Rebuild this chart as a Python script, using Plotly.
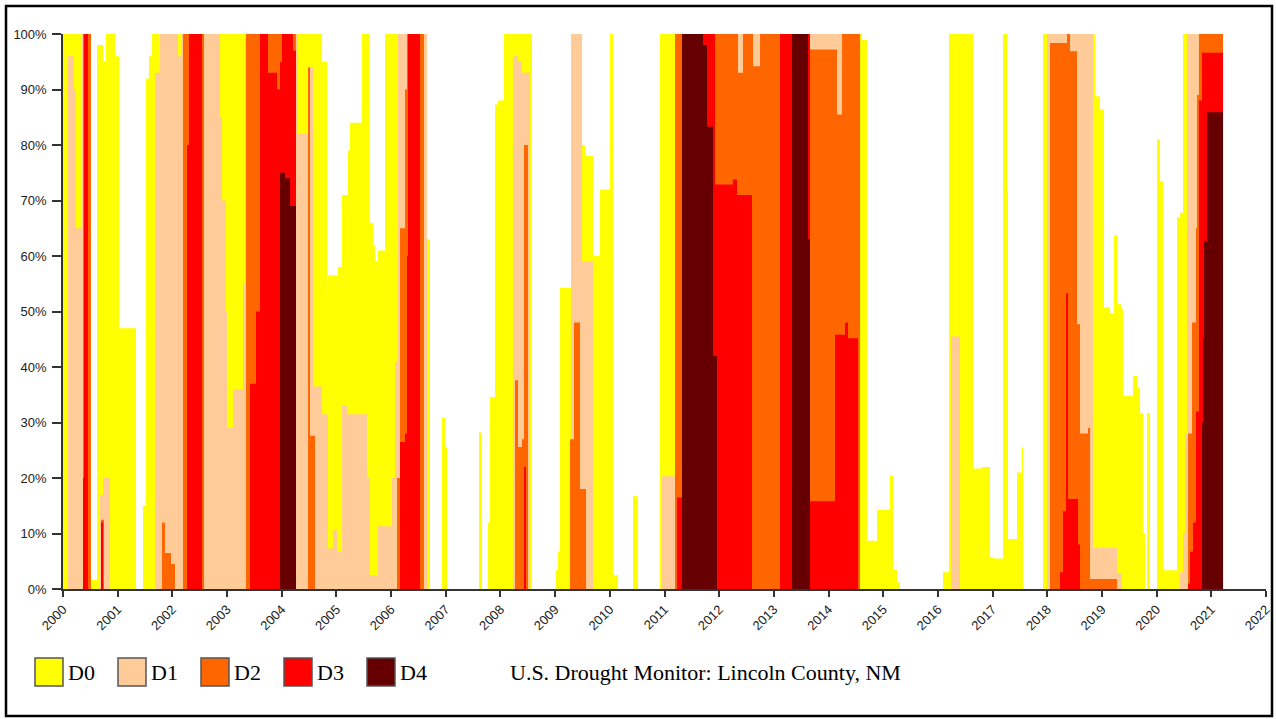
import plotly.graph_objects as go

# ---- Data: cumulative percent area (step points: value holds from this date on) ----
d0_x = [2000.000, 2000.494, 2000.622, 2000.732, 2000.786, 2000.951, 2001.024, 2001.335, 2001.463, 2001.518,
        2001.573, 2001.628, 2004.737, 2004.828, 2004.846, 2005.029, 2005.102, 2005.212, 2005.249, 2005.468,
        2005.614, 2005.669, 2005.705, 2005.761, 2005.889, 2006.657, 2006.712, 2006.931, 2006.985, 2007.023,
        2007.608, 2007.663, 2007.773, 2007.809, 2007.901, 2007.955, 2008.065, 2008.577, 2009.016, 2009.053,
        2009.089, 2009.290, 2009.492, 2009.547, 2009.693, 2009.821, 2010.004, 2010.059, 2010.150, 2010.424,
        2010.516, 2010.918, 2014.612, 2014.704, 2014.887, 2015.124, 2015.179, 2015.252, 2015.307, 2016.093,
        2016.203, 2016.642, 2016.807, 2016.953, 2017.008, 2017.191, 2017.264, 2017.282, 2017.447, 2017.538,
        2017.556, 2017.922, 2018.873, 2018.965, 2019.038, 2019.148, 2019.221, 2019.276, 2019.349, 2019.386,
        2019.569, 2019.642, 2019.697, 2019.752, 2019.788, 2019.825, 2019.879, 2020.007, 2020.062, 2020.117,
        2020.373, 2020.428, 2020.483, 2021.214]
d0_y = [100, 1.6, 98, 95, 100, 96, 47, 0, 15, 92,
        96, 100, 95, 53, 56.5, 58, 71, 79, 84, 100,
        66, 62, 59, 61, 100, 63, 0, 30.8, 25.6, 0,
        28.2, 0, 12, 34.6, 87.3, 88, 100, 0, 3.4, 6.7,
        54.3, 100, 80, 78, 60, 72, 100, 2.5, 0, 16.7,
        0, 100, 98.9, 8.7, 14.3, 20.4, 3.5, 1.2, 0, 3,
        100, 21.7, 22, 5.7, 5.5, 100, 72, 9, 21, 25.6,
        0, 100, 88.8, 86.4, 50.7, 49.7, 63.7, 51.3, 50.4, 34.8,
        38.4, 36.3, 31.7, 10, 0, 31.7, 0, 81, 73.5, 3.4,
        67, 67.8, 100, 100]

d1_x = [2000.000, 2000.091, 2000.200, 2000.238, 2000.347, 2000.494, 2000.677, 2000.732, 2000.860, 2001.683,
        2001.774, 2002.103, 2002.176, 2002.871, 2002.908, 2002.981, 2002.999, 2003.109, 2003.292, 2003.328,
        2004.298, 2004.481, 2004.572, 2004.737, 2004.846, 2004.938, 2005.011, 2005.102, 2005.194, 2005.560,
        2005.614, 2005.761, 2006.017, 2006.072, 2006.126, 2006.657, 2008.230, 2008.321, 2008.394, 2008.541,
        2009.290, 2009.492, 2009.693, 2010.955, 2011.192, 2014.576, 2016.240, 2016.404, 2017.995, 2018.837,
        2019.276, 2019.367, 2020.428, 2020.483, 2020.519, 2020.556, 2021.214]
d1_y = [0, 96, 90, 65, 100, 0, 17, 20, 0, 93,
        100, 96, 100, 85, 70, 50, 29, 36, 55, 100,
        82, 94, 36.5, 31.5, 7.3, 10.6, 6.7, 33, 31.5, 20,
        2.5, 11.3, 20, 41, 100, 0, 96, 95, 93, 0,
        100, 59, 0, 20.3, 100, 0, 45.5, 0, 100, 7.4,
        2.8, 0, 3, 10, 28, 100, 100]

d2_x = [2000.000, 2000.366, 2000.512, 2000.695, 2000.750, 2001.811, 2001.865, 2001.975, 2002.048, 2002.195,
        2002.579, 2003.347, 2004.261, 2004.481, 2004.517, 2004.609, 2006.108, 2006.163, 2006.255, 2006.291,
        2006.602, 2008.266, 2008.321, 2008.394, 2008.431, 2008.504, 2009.272, 2009.345, 2009.455, 2009.565,
        2011.192, 2012.344, 2012.436, 2012.619, 2012.747, 2013.661, 2014.155, 2014.247, 2014.576, 2018.050,
        2018.361, 2018.416, 2018.544, 2018.599, 2018.745, 2018.782, 2019.276, 2020.574, 2020.647, 2020.720,
        2020.739, 2020.775, 2021.214]
d2_y = [0, 100, 0, 12.5, 0, 12, 6.5, 4.5, 0, 100,
        0, 100, 0, 94, 27.6, 0, 20, 65, 90, 100,
        0, 37.6, 25.6, 27, 80, 0, 27, 48, 18, 0,
        100, 93, 100, 94.2, 100, 97.2, 85.5, 100, 0, 98.4,
        100, 96.9, 47.7, 28, 29, 1.8, 0, 28, 48, 65,
        89, 100, 100]

d3_x = [2000.000, 2000.366, 2000.384, 2000.457, 2000.695, 2000.732, 2002.268, 2002.304, 2002.542, 2003.420,
        2003.530, 2003.603, 2003.749, 2003.914, 2003.969, 2004.005, 2004.206, 2004.261, 2006.163, 2006.255,
        2006.291, 2006.309, 2006.529, 2008.431, 2008.467, 2011.229, 2011.320, 2011.924, 2012.253, 2012.326,
        2012.600, 2013.113, 2013.661, 2014.118, 2014.301, 2014.356, 2014.539, 2018.233, 2018.288, 2018.343,
        2018.379, 2018.562, 2018.599, 2020.574, 2020.611, 2020.666, 2020.720, 2020.775, 2020.830, 2021.214]
d3_y = [0, 20, 100, 0, 12, 0, 80, 100, 0, 37,
        50, 100, 93, 90, 95, 100, 97, 0, 26.5, 28,
        60, 100, 0, 22, 0, 16.5, 100, 72.9, 73.8, 71,
        0, 100, 15.8, 45.8, 48, 45.2, 0, 3, 14, 53.3,
        16.2, 8, 0, 1, 6.7, 12, 32, 88, 96.6, 97]

d4_x = [2000.000, 2003.969, 2004.060, 2004.152, 2004.261, 2011.320, 2011.705, 2011.778, 2011.887, 2011.960,
        2013.332, 2013.625, 2013.661, 2020.830, 2020.848, 2020.867, 2020.921, 2021.214]
d4_y = [0, 75, 74, 69, 0, 100, 98, 83.3, 42, 0,
        100, 63, 0, 30, 45, 62.7, 85.9, 86]

names = ["D0", "D1", "D2", "D3", "D4"]
colors = ["#FFFF00", "#FFCC99", "#FF6600", "#FF0000", "#660000"]
years = list(range(2000, 2023))
pct_ticks = list(range(0, 101, 10))
title_text = "U.S. Drought Monitor: Lincoln County, NM"

series = [(d0_x, d0_y), (d1_x, d1_y), (d2_x, d2_y), (d3_x, d3_y), (d4_x, d4_y)]

# ---- Layout geometry (pixels) ----
W, H = 1276, 719
L, R, T, B = 63, 1266, 34, 589
PW, PH = R - L, B - T


def px_x(px):
    return (px - L) / PW


def px_y(py):
    return (B - py) / PH


fig = go.Figure()
for (xs, ys), nm, col in zip(series, names, colors):
    fig.add_trace(go.Scatter(
        x=xs, y=ys, name=nm, mode="lines",
        line=dict(width=0, shape="hv", color=col),
        fill="tozeroy", fillcolor=col, showlegend=False, hoverinfo="skip"))

shapes = []
annotations = []
# outer frame
shapes.append(dict(type="rect", xref="paper", yref="paper",
                   x0=px_x(6), x1=px_x(1272), y0=px_y(6), y1=px_y(716),
                   line=dict(color="black", width=2.5), fillcolor="rgba(0,0,0,0)", layer="above"))
# legend swatches
sw_left = [35, 118, 201, 284, 367]
for i, (nm, col) in enumerate(zip(names, colors)):
    x0 = sw_left[i]
    shapes.append(dict(type="rect", xref="paper", yref="paper",
                       x0=px_x(x0), x1=px_x(x0 + 28), y0=px_y(658), y1=px_y(686),
                       line=dict(color="#555555", width=1.5), fillcolor=col, layer="above"))
    annotations.append(dict(xref="paper", yref="paper", x=px_x(x0 + 31), y=px_y(672),
                            text=nm, showarrow=False, xanchor="left", yanchor="middle",
                            font=dict(family="Liberation Serif, Times New Roman, serif", size=22, color="black")))
annotations.append(dict(xref="paper", yref="paper", x=px_x(508), y=px_y(672),
                        text=title_text, showarrow=False, xanchor="left", yanchor="middle",
                        font=dict(family="Liberation Serif, Times New Roman, serif", size=22, color="black")))

tickfont = dict(family="Liberation Sans, Arial, sans-serif", size=13, color="#222222")
fig.update_layout(
    width=W, height=H,
    margin=dict(l=L, r=W - R, t=T, b=H - B, pad=0),
    paper_bgcolor="white", plot_bgcolor="white",
    shapes=shapes, annotations=annotations,
    xaxis=dict(range=[2000, 2022], tickmode="array", tickvals=years, ticktext=[str(y) for y in years],
               tickangle=-45, showgrid=False, zeroline=False, showline=True, linecolor="#333333",
               linewidth=1.5, ticks="outside", ticklen=6, tickwidth=1.5, tickcolor="#333333",
               tickfont=tickfont, automargin=False, fixedrange=True),
    yaxis=dict(range=[0, 100], tickmode="array", tickvals=pct_ticks, ticktext=[f"{v}%" for v in pct_ticks],
               showgrid=False, zeroline=False, showline=True, linecolor="#333333", linewidth=1.5,
               ticks="outside", ticklen=9, tickwidth=1.5, tickcolor="#333333", ticklabelstandoff=3,
               tickfont=tickfont, automargin=False, fixedrange=True),
)

fig.write_html("out.html", config={"displayModeBar": False},
               post_script="document.body.style.margin='0';document.body.style.overflow='hidden';")
